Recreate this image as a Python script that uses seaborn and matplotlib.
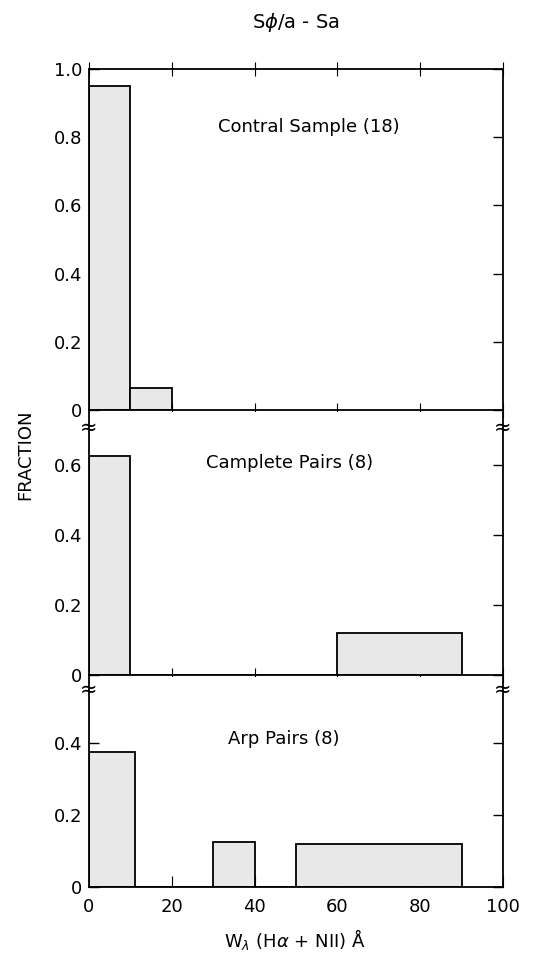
import numpy as np
import pandas as pd
import matplotlib
matplotlib.use('Agg')
import matplotlib.pyplot as plt
from matplotlib.ticker import FuncFormatter
import seaborn as sns

# bin edges (W_lambda, Angstrom) and fraction per bin for each sample
edges_control = [0, 10, 20]
frac_control = [0.95, 0.065]

edges_complete = [0, 10, 60, 90]
frac_complete = [0.625, 0.0, 0.12]

edges_arp = [0, 11, 30, 40, 50, 90]
frac_arp = [0.375, 0.0, 0.125, 0.0, 0.12]

labels = ['Contral Sample (18)', 'Camplete Pairs (8)', 'Arp Pairs (8)']

sns.set_style('ticks')
plt.rcParams['font.family'] = ['DejaVu Sans']
plt.rcParams['axes.linewidth'] = 1.3
plt.rcParams['text.color'] = 'black'
plt.rcParams['xtick.color'] = 'black'
plt.rcParams['ytick.color'] = 'black'
plt.rcParams['axes.edgecolor'] = 'black'

fig = plt.figure(figsize=(5.5, 9.6), dpi=100)
W, H = 550, 960
left, right = 89, 503

# panel pixel extents (top, bottom) and y-limits
panels = [
    (69, 410, 1.0, edges_control, frac_control, labels[0], (53, 0.83), [0, 0.2, 0.4, 0.6, 0.8, 1.0]),
    (412, 675, 0.751, edges_complete, frac_complete, labels[1], (48.5, 0.606), [0, 0.2, 0.4, 0.6]),
    (677, 887, 0.583, edges_arp, frac_arp, labels[2], (47, 0.41), [0, 0.2, 0.4]),
]

fmt = FuncFormatter(lambda v, p: '0' if v == 0 else f'{v:.1f}')
axes = []
for i, (top, bot, ymax, edges, frac, lab, pos, yt) in enumerate(panels):
    ax = fig.add_axes([left / W, 1 - bot / H, (right - left) / W, (bot - top) / H])
    mids = (np.array(edges[:-1]) + np.array(edges[1:])) / 2
    df = pd.DataFrame({'w': mids, 'f': frac})
    df = df[df['f'] > 0]
    sns.histplot(data=df, x='w', weights='f', bins=edges, ax=ax,
                 color='#e8e8e8', edgecolor='black', linewidth=1.3, alpha=1)
    ax.set_xlim(0, 100)
    ax.set_ylim(0, ymax)
    ax.set_yticks(yt)
    ax.yaxis.set_major_formatter(fmt)
    ax.set_xticks([0, 20, 40, 60, 80, 100])
    ax.set_xlabel('')
    ax.set_ylabel('')
    ax.text(pos[0], pos[1], lab, fontsize=13, ha='center', va='center')
    ax.tick_params(axis='y', direction='in', left=True, right=True, length=7,
                   width=1, labelsize=13, pad=5)
    if i == 0:
        ax.tick_params(axis='x', direction='inout', top=True, bottom=True,
                       length=10, labelbottom=False)
    elif i == 1:
        ax.spines['top'].set_visible(False)
        ax.tick_params(axis='x', direction='inout', top=False, bottom=True,
                       length=10, labelbottom=False)
    else:
        ax.spines['top'].set_visible(False)
        ax.tick_params(axis='x', direction='in', top=False, bottom=True,
                       length=8, labelsize=13, pad=8)
    ax.grid(False)
    axes.append(ax)

# break marks on the axis lines between panels
for yb in (428, 690):
    for xb in (left, right):
        fig.text(xb / W, 1 - yb / H, '\u2248', fontsize=15, ha='center', va='center')

fig.text((left + right) / 2 / W, 1 - 22 / H, r'S$\phi$/a - Sa', fontsize=14,
         ha='center', va='center')
fig.text(25 / W, 1 - 455 / H, 'FRACTION', fontsize=13, rotation=90,
         ha='center', va='center')
fig.text(295 / W, 1 - 940 / H, r'W$_\lambda$ (H$\alpha$ + N$\mathrm{II}$) Å',
         fontsize=13, ha='center', va='center')

fig.savefig('out.png', dpi=100, facecolor='white')
